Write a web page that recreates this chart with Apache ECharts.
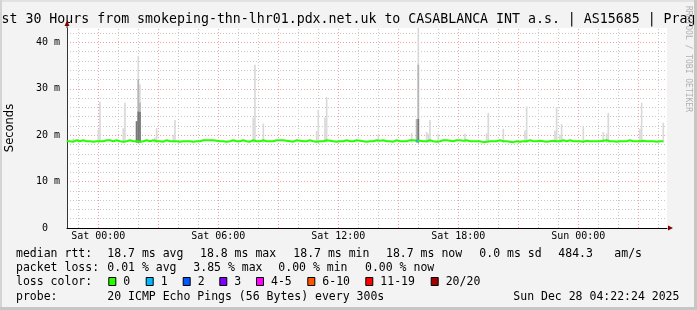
<!DOCTYPE html>
<html><head><meta charset="utf-8">
<script src="https://cdn.jsdelivr.net/npm/echarts@6/dist/echarts.min.js"></script>
<style>html,body{margin:0;padding:0;background:#f3f3f3}#c{width:697px;height:310px}</style>
</head><body><div id="c"></div>
<script>
// ---------- data ----------
const TITLE = 'Last 30 Hours from smokeping-thn-lhr01.pdx.net.uk to CASABLANCA INT a.s. | AS15685 | Prague';
const yLabelText = 'Seconds';
const xTickHours = [0, 6, 12, 18, 24];
const xTickLabels = ['Sat 00:00', 'Sat 06:00', 'Sat 12:00', 'Sat 18:00', 'Sun 00:00'];
const gridHours = [-1,0,1,2,3,4,5,6,7,8,9,10,11,12,13,14,15,16,17,18,19,20,21,22,23,24,25,26,27,28];
const xMinHour = -1.565, xMaxHour = 28.435;   // hours relative to Sat 00:00
const yMaxMs = 43.1;

// median rtt (ms), 10-minute steps starting Fri 22:25
const medianStartHour = -1.583;
const medianStepHours = 1 / 6;
const medianValues = [
18.7,18.6,18.9,18.7,18.9,18.7,18.7,18.6,18.7,18.7,18.7,18.9,18.9,18.7,18.9,18.7,18.6,18.7,18.9,18.7,
18.7,18.6,18.7,18.9,18.7,18.9,18.7,18.7,18.6,18.9,18.7,18.7,18.7,18.6,18.7,18.7,18.7,18.6,18.7,18.7,
18.9,18.9,18.9,18.9,18.8,18.7,18.7,18.6,18.7,18.9,18.7,18.7,18.9,18.7,18.6,18.9,18.7,18.7,18.9,18.7,
18.7,18.7,18.9,18.9,18.9,18.8,18.7,18.6,18.9,18.8,18.7,18.7,18.9,18.7,18.6,18.7,18.7,18.9,18.8,18.7,
18.6,18.7,18.7,18.9,18.7,18.7,18.9,18.8,18.7,18.6,18.7,18.7,18.9,18.8,18.9,18.7,18.7,18.6,18.9,18.7,
18.7,18.7,18.9,18.9,18.8,18.8,18.7,18.7,18.9,18.7,18.6,18.7,18.9,18.9,18.8,18.7,18.9,18.9,18.8,18.9,
18.7,18.7,18.7,18.7,18.5,18.6,18.7,18.7,18.7,18.9,18.7,18.7,18.6,18.5,18.7,18.6,18.7,18.7,18.9,18.7,
18.7,18.8,18.7,18.6,18.7,18.8,18.7,18.7,18.9,18.7,18.9,18.7,18.7,18.7,18.6,18.8,18.7,18.7,18.7,18.7,
18.8,18.9,18.7,18.7,18.6,18.7,18.7,18.7,18.9,18.7,18.7,18.7,18.8,18.7,18.7,18.7,18.6,18.7,18.7,18.7
];
// one-loss segment (coloured median)
const lossSegHours = [15.875, 15.958];
const lossSegValues = [18.8, 18.8];

// smoke (5-minute steps): hour, max, mid-tone top, dark-tone top
const smokeBase = 18.4;
const spikeHours = [-1.25,-1.0,0.0,0.083,1.25,1.333,1.917,2.0,2.083,2.833,2.917,3.75,3.833,7.75,7.833,8.25,
  10.917,11.0,11.333,11.417,14.0,15.667,15.917,16.0,16.417,16.5,16.583,17.0,18.333,19.417,19.5,20.25,
  21.333,21.417,22.833,22.917,23.083,23.167,24.25,25.25,25.417,25.5,27.083,27.167,28.25];
const spikeHi = [19.3,19.2,21.2,27.2,21.5,27.0,23.0,37.1,30.9,19.5,21.5,20.1,23.3,23.8,35.2,22.5,
  20.9,25.5,23.8,28.2,20.0,20.5,23.5,43.1,20.7,20.3,23.3,20.3,20.3,20.4,24.8,21.4,
  21.0,26.2,21.0,26.1,20.1,22.4,21.9,20.7,20.4,24.8,21.4,27.0,22.7];
const spikeMid = [0,0,0,0,0,0,23.0,32.0,27.0,0,0,0,0,0,0,0,
  0,0,0,0,0,0,23.5,35.2,0,0,0,0,0,0,0,0,
  0,0,0,0,0,0,0,0,0,0,0,0,0];
const spikeDark = [0,0,0,0,0,0,23.0,25.1,25.0,0,0,0,0,0,0,0,
  0,0,0,0,0,0,0,23.5,0,0,0,0,0,0,0,0,
  0,0,0,0,0,0,0,0,0,0,0,0,0];

// legend
const lossColors = ['#26ff00','#00b8ff','#0059ff','#7e00ff','#ff00ff','#ff5500','#ff0000','#a10000'];
const lossLabels = ['0','1','2','3','4-5','6-10','11-19','20/20'];
const row1 = ['median rtt:','18.7 ms avg','18.8 ms max','18.7 ms min','18.7 ms now','0.0 ms sd','484.3','am/s'];
const row2 = ['packet loss:','0.01 % avg','3.85 % max','0.00 % min','0.00 % now'];
const row3Head = 'loss color:';
const row4 = ['probe:','20 ICMP Echo Pings (56 Bytes) every 300s','Sun Dec 28 04:22:24 2025'];
const sideText = 'RRDTOOL / TOBI OETIKER';

// ---------- build ----------
const MONO = '"DejaVu Sans Mono", monospace';
const medianData = medianValues.map((v, k) => [medianStartHour + k * medianStepHours, v]);
const lossData = lossSegHours.map((h, i) => [h, lossSegValues[i]]);
function layer(arr) {
  const out = [];
  spikeHours.forEach((h, i) => { if (arr[i] > 0) out.push([h, smokeBase, arr[i]]); });
  return out;
}
function smokeSeries(arr, color, z) {
  return {
    type: 'custom', z: z, silent: true, clip: true,
    data: layer(arr),
    renderItem: function (params, api) {
      const h = api.value(0), lo = api.value(1), hi = api.value(2);
      const a = api.coord([h - 1/24, hi]);
      const b = api.coord([h + 1/24, lo]);
      return { type: 'rect', shape: { x: a[0], y: a[1], width: b[0] - a[0], height: b[1] - a[1] },
               style: { fill: color } };
    }
  };
}
const vGrid = gridHours.map(h => ({
  xAxis: h,
  lineStyle: { color: (h % 3 === 0) ? '#f4a0a0' : '#c8c8c8', type: [1, 2], width: 1 }
}));

const chart = echarts.init(document.getElementById('c'), null, { renderer: 'canvas' });
const option = {
  animation: false,
  backgroundColor: '#f3f3f3',
  grid: { left: 67, top: 28, width: 600, height: 200, backgroundColor: '#ffffff', show: true, borderWidth: 0 },
  xAxis: {
    type: 'value', min: xMinHour, max: xMaxHour,
    axisLine: { show: true, onZero: false, lineStyle: { color: '#000', width: 1 } },
    axisTick: { show: false },
    splitLine: { show: false },
    axisLabel: {
      customValues: xTickHours, margin: 3,
      formatter: v => xTickLabels[xTickHours.indexOf(v)] || '',
      fontFamily: MONO, fontSize: 10, color: '#000'
    }
  },
  yAxis: {
    type: 'value', min: 0, max: yMaxMs, interval: 2,
    axisLine: { show: true, onZero: false, lineStyle: { color: '#333', width: 1 } },
    axisTick: { show: false },
    splitLine: { show: true, showMaxLine: false,
      lineStyle: { color: ['#f4a0a0','#c8c8c8','#c8c8c8','#c8c8c8','#c8c8c8'], type: [1, 2], width: 1 } },
    axisLabel: {
      margin: 7, fontFamily: MONO, fontSize: 10, color: '#000', showMaxLabel: false,
      formatter: v => (v === 0 ? ' 0  ' : (Math.abs(v % 10) < 1e-9 ? v + ' m' : ''))
    }
  },
  series: [
    { type: 'line', data: [], silent: true,
      markLine: { silent: true, symbol: 'none', z: 1, label: { show: false }, animation: false, data: vGrid } },
    smokeSeries(spikeHi, '#d9d9d9', 2),
    smokeSeries(spikeMid, '#b4b4b4', 3),
    smokeSeries(spikeDark, '#777777', 4),
    { type: 'line', step: 'end', data: medianData, showSymbol: false, silent: true, z: 5,
      lineStyle: { color: lossColors[0], width: 2 } },
    { type: 'line', data: lossData, showSymbol: false, silent: true, z: 6,
      lineStyle: { color: lossColors[1], width: 2 } }
  ]
};
chart.setOption(option);

// decorations and texts
const tl = chart.convertToPixel({ gridIndex: 0 }, [xMinHour, yMaxMs]);
const br = chart.convertToPixel({ gridIndex: 0 }, [xMaxHour, 0]);
const g = [];
// title first, frame drawn over it
g.push({ type: 'text', x: 348.5, y: 19.5, style: { text: TITLE, fontSize: 13.25, fontFamily: MONO, fill: '#000', align: 'center', verticalAlign: 'middle' }, silent: true });
// frame
g.push({ type: 'rect', shape: { x: 0, y: 0, width: 697, height: 2 }, style: { fill: '#e2e2e2' }, silent: true });
g.push({ type: 'rect', shape: { x: 0, y: 0, width: 2, height: 310 }, style: { fill: '#d4d4d4' }, silent: true });
g.push({ type: 'rect', shape: { x: 694, y: 0, width: 3, height: 310 }, style: { fill: '#c6c6c6' }, silent: true });
g.push({ type: 'rect', shape: { x: 0, y: 307, width: 697, height: 3 }, style: { fill: '#c6c6c6' }, silent: true });
// axis arrows
g.push({ type: 'line', shape: { x1: tl[0], y1: tl[1], x2: tl[0], y2: tl[1] - 3 }, style: { stroke: '#333', lineWidth: 1 }, silent: true });
g.push({ type: 'polygon', shape: { points: [[tl[0], tl[1] - 7.5], [tl[0] - 2.5, tl[1] - 2], [tl[0] + 2.5, tl[1] - 2]] }, style: { fill: '#800000' }, silent: true });
g.push({ type: 'polygon', shape: { points: [[br[0] + 6, br[1]], [br[0] + 1, br[1] - 2.5], [br[0] + 1, br[1] + 2.5]] }, style: { fill: '#800000' }, silent: true });
// y label
g.push({ type: 'text', x: 10.5, y: 128, rotation: Math.PI / 2, style: { text: yLabelText, font: '11.5px "DejaVu Sans"', fill: '#000', align: 'center', verticalAlign: 'middle' }, silent: true });
// side text
g.push({ type: 'text', x: 688.5, y: 59, rotation: -Math.PI / 2, style: { text: sideText, font: '8px ' + MONO, fill: '#b0b0b0', align: 'center', verticalAlign: 'middle' }, silent: true });
// legend rows
const LF = '11.5px ' + MONO;
const row1X = [16, 107.3, 200, 293.3, 386, 479.3, 558.3, 614.3];
const row2X = [16, 107.3, 193.3, 278.3, 365];
const row4X = [16, 107.3, 513.3];
function txt(s, x, y) {
  g.push({ type: 'text', x: x, y: y, style: { text: s, font: LF, fill: '#000', align: 'left', verticalAlign: 'middle' }, silent: true });
}
row1.forEach((s, i) => txt(s, row1X[i], 254.5));
row2.forEach((s, i) => txt(s, row2X[i], 268.3));
txt(row3Head, 16, 282);
const boxX = [108.3, 145.7, 182.7, 219.3, 256, 307.3, 365.3, 430.7];
lossLabels.forEach((s, i) => {
  g.push({ type: 'rect', shape: { x: boxX[i] + 0.5, y: 277.5, width: 7, height: 8 }, style: { fill: lossColors[i], stroke: '#000', lineWidth: 1 }, silent: true });
  txt(s, boxX[i] + 15, 282);
});
row4.forEach((s, i) => txt(s, row4X[i], 296.7));
chart.setOption({ graphic: g });
</script></body></html>
